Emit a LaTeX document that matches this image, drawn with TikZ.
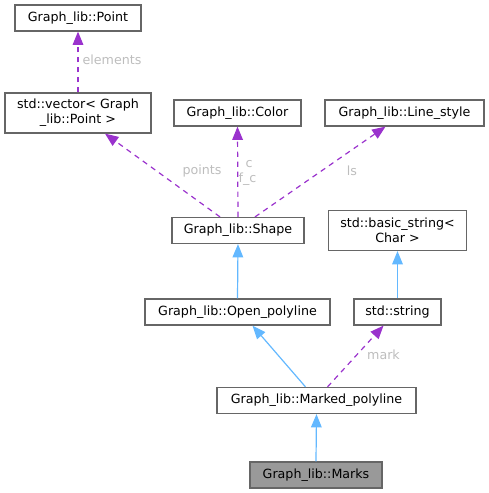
\documentclass[tikz,border=0pt]{standalone}
\usepackage{fontspec}
\setmainfont{DejaVu Sans}
\usetikzlibrary{arrows.meta,calc}
\definecolor{edgeP}{HTML}{9A32CD}
\definecolor{edgeB}{HTML}{63B8FF}
\definecolor{boxline}{HTML}{666666}
\definecolor{lbl}{HTML}{BDBDBD}
\definecolor{mainfill}{HTML}{999999}
\begin{document}
\begin{tikzpicture}[x=0.75pt,y=-0.75pt,
  font=\fontsize{9.5pt}{11.25pt}\selectfont,
  box/.style={draw=boxline,fill=white,line width=0.9pt,rectangle,inner sep=0pt,align=center,minimum height=19.5pt},
  box2/.style={box,minimum height=30pt},
  usage/.style={draw=edgeP,line width=0.9pt,dash pattern=on 4pt off 3.5pt,-{Triangle[length=10pt,width=8pt]}},
  inh/.style={draw=edgeB,line width=0.9pt,-{Triangle[length=10pt,width=8pt]}},
  elabel/.style={text=lbl,inner sep=0pt}]
\useasboundingbox (0,0) rectangle (489,493);
\node[box,minimum width=94.5pt] (P) at (78,18) {Graph\_lib::Point};
\node[box2,minimum width=109.5pt] (V) at (78,113) {std::vector< Graph\\\_lib::Point >};
\node[box,minimum width=95.25pt] (C) at (237.5,113) {Graph\_lib::Color};
\node[box,minimum width=119.25pt] (L) at (404.5,113) {Graph\_lib::Line\_style};
\node[box,minimum width=99pt] (S) at (238,230.5) {Graph\_lib::Shape};
\node[box2,minimum width=103.5pt] (B) at (397.5,230.5) {std::basic\_string<\\Char >};
\node[box,minimum width=138.75pt] (O) at (237.5,312) {Graph\_lib::Open\_polyline};
\node[box,minimum width=65.25pt] (T) at (397.5,312) {std::string};
\node[box,minimum width=149.25pt] (M) at (316.5,400.5) {Graph\_lib::Marked\_polyline};
\node[box,minimum width=99pt,fill=mainfill] (K) at (316,475) {Graph\_lib::Marks};

\draw[usage] (V.north) -- (P.south);
\draw[usage] ($(S.north)+(-18,0)$) -- ($(V.south)+(27,0)$);
\draw[usage] (S.north) -- (C.south);
\draw[usage] ($(S.north)+(17,0)$) -- ($(L.south)+(-19,0)$);
\draw[inh] (O.north) -- (S.south);
\draw[inh] (T.north) -- (B.south);
\draw[inh] ($(M.north)+(-11,0)$) -- ($(O.south)+(15,0)$);
\draw[usage] ($(M.north)+(11,0)$) -- ($(T.south)+(-14,0)$);
\draw[inh] (K.north) -- (M.south);

\node[elabel] (le) at (112,60) {elements};
\node[elabel] (lp) at (202,171) {points};
\node[elabel] (lc) at (249,164) {c};
\node[elabel] (lf) at (247.5,179) {f\_c};
\node[elabel] (ll) at (352,171) {ls};
\node[elabel] (lm) at (383.5,355) {mark};
\end{tikzpicture}
\end{document}
